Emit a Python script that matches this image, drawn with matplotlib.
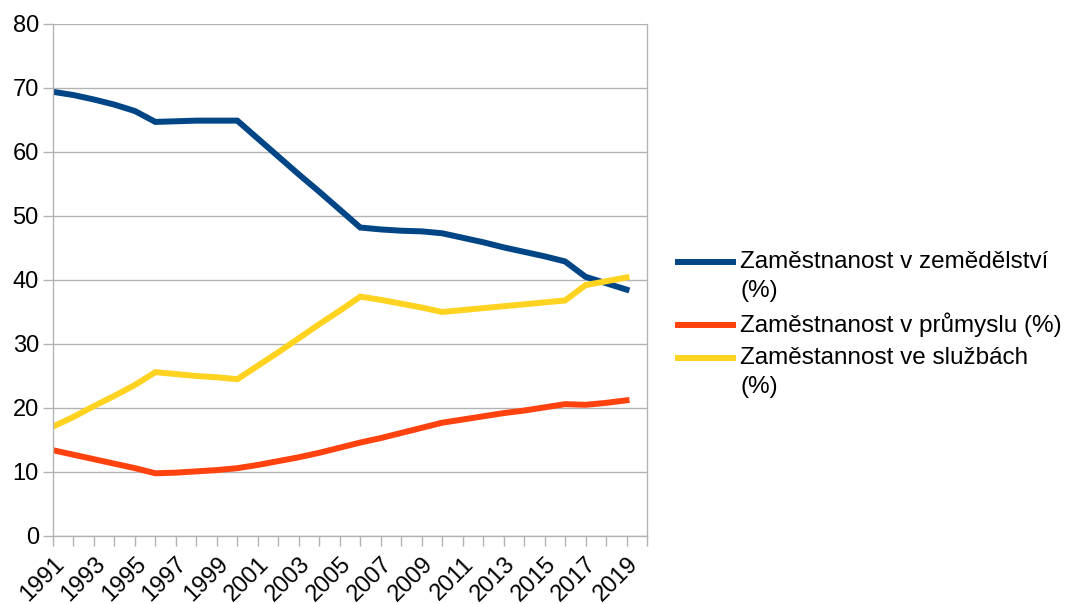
import numpy as np
import matplotlib.pyplot as plt
from matplotlib.lines import Line2D

plt.rcParams['font.family'] = ['Liberation Sans', 'DejaVu Sans']

years = list(range(1991, 2020))

zemedelstvi = [69.4, 68.9, 68.2, 67.4, 66.4, 64.7, 64.8, 64.9, 64.9, 64.9,
               62.1, 59.3, 56.5, 53.8, 51.0, 48.2, 47.9, 47.7, 47.6, 47.3,
               46.6, 45.9, 45.1, 44.4, 43.7, 42.9, 40.5, 39.5, 38.5]
prumysl = [13.4, 12.7, 12.0, 11.3, 10.6, 9.8, 9.9, 10.1, 10.3, 10.6,
           11.1, 11.7, 12.3, 13.0, 13.8, 14.6, 15.3, 16.1, 16.9, 17.7,
           18.2, 18.7, 19.2, 19.6, 20.1, 20.6, 20.5, 20.8, 21.2]
sluzby = [17.1, 18.6, 20.3, 21.9, 23.6, 25.6, 25.3, 25.0, 24.8, 24.5,
          26.6, 28.7, 30.9, 33.1, 35.2, 37.4, 36.9, 36.3, 35.7, 35.0,
          35.3, 35.6, 35.9, 36.2, 36.5, 36.8, 39.2, 39.8, 40.4]

labels = ["Zaměstnanost v zemědělství", "Zaměstnanost v průmyslu (%)",
          "Zaměstannost ve službách"]
colors = ["#004586", "#ff420e", "#ffd320"]

W, H = 1075, 604
fig = plt.figure(figsize=(W/100, H/100), dpi=100)
ax = fig.add_axes([53/W, 1-536/H, (647-53)/W, (536-24)/H])

for vals, c in zip([zemedelstvi, prumysl, sluzby], colors):
    ax.plot(years, vals, color=c, lw=4.3, solid_joinstyle='miter')

ax.set_xlim(1991, 2020)
ax.set_ylim(0, 80)
ax.set_yticks(range(0, 81, 10))
ax.set_xticks(range(1991, 2021))
ax.set_xticklabels([str(y) if (y - 1991) % 2 == 0 and y < 2020 else "" for y in range(1991, 2021)],
                   rotation=45, ha='right', rotation_mode='anchor')
ax.grid(axis='y', color='#b3b3b3', lw=1)
ax.set_axisbelow(True)
for s in ax.spines.values():
    s.set_color('#b3b3b3')
    s.set_linewidth(1)
ax.spines['top'].set_visible(False)
ax.tick_params(colors='#b3b3b3', length=7.2, width=1, labelcolor='black', labelsize=17)
ax.tick_params(axis='y', pad=3)
ax.tick_params(axis='x', pad=5)

# legend
entries = [(262, labels[0], True), (325, labels[1], False), (358, labels[2], True)]
for (py, txt, wrap), c in zip(entries, colors):
    fig.add_artist(Line2D([678/W, 733/W], [1-py/H, 1-py/H], color=c, lw=4.3,
                          transform=fig.transFigure))
    fig.text(740/W, 1-py/H, txt, fontsize=17.5, va='center', ha='left')
    if wrap:
        fig.text(740/W, 1-(py+29)/H, "(%)", fontsize=17.5, va='center', ha='left')

fig.savefig("out.png", dpi=100)
